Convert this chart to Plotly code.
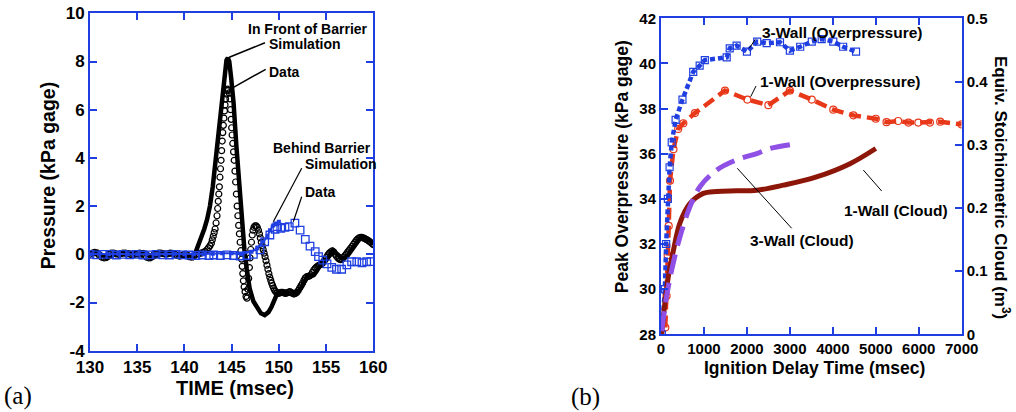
import plotly.graph_objects as go

W, H = 1016, 412
BLUE = "#1f3fe0"
RED = "#e8381a"
DARKRED = "#8c1608"
PURPLE = "#8f50e6"
FONT = "Liberation Sans"

# ---------------- Panel (a) data ----------------
front_sim_t = [130, 130.4, 130.8, 131.3, 131.8, 132.3, 132.8, 133.3, 133.8, 134.3, 134.8, 135.2,
               135.7, 136.1, 136.5, 137.0, 137.5, 138.0, 138.5, 139.0, 139.5, 140.0, 140.5, 140.9,
               141.2, 141.5, 141.8, 142.1, 142.4, 142.7, 143.0, 143.25, 143.5, 143.75, 144.0, 144.25,
               144.45, 144.6, 144.75, 144.95, 145.2, 145.5, 145.8, 146.1, 146.35, 146.6, 146.9,
               147.3, 147.7, 148.1, 148.5, 148.9, 149.2, 149.5, 149.8, 150.1, 150.6, 151.1, 151.5,
               151.9, 152.3, 152.7, 153.0, 153.4, 153.7, 154.0, 154.4, 154.8, 155.1, 155.45, 155.75,
               156.2, 156.8, 157.3, 157.8, 158.2, 158.7, 159.1, 159.6, 160.0]
front_sim_p = [0.0, 0.08, 0.1, -0.05, -0.18, -0.05, 0.03, 0.05, 0.04, 0.06, 0.0, -0.05,
               0.08, 0.02, -0.18, -0.05, 0.03, 0.05, 0.06, 0.04, -0.03, -0.08, -0.02, -0.13,
               0.1, 0.4, 0.75, 1.05, 1.45, 2.0, 2.8, 3.7, 4.7, 5.8, 6.8, 7.6,
               8.05, 8.15, 8.0, 7.3, 6.3, 4.5, 2.9, 1.4, 0.2, -0.6, -1.4,
               -1.95, -2.25, -2.45, -2.52, -2.4, -2.2, -1.9, -1.65, -1.6, -1.6, -1.58, -1.6,
               -1.62, -1.42, -1.15, -0.93, -0.9, -0.86, -0.7, -0.44, -0.3, -0.2, -0.02, 0.16,
               0.0, -0.2, -0.05, 0.25, 0.5, 0.72, 0.7, 0.6, 0.42]

front_data_t = [130.0, 130.25, 130.5, 130.75, 131.0, 131.25, 131.5, 131.75, 132.0, 132.25, 132.5,
                132.75, 133.0, 133.25, 133.5, 133.75, 134.0, 134.25, 134.5, 134.75, 135.0, 135.25,
                135.5, 135.75, 136.0, 136.25, 136.5, 136.75, 137.0, 137.25, 137.5, 137.75, 138.0,
                138.25, 138.5, 138.75, 139.0, 139.25, 139.5, 139.75, 140.0, 140.25, 140.5, 140.75,
                141.0, 141.25, 141.5, 141.75, 142.0, 142.2, 142.4, 142.55, 142.7, 142.85, 142.95,
                143.05, 143.15, 143.25, 143.35, 143.45, 143.52, 143.58, 143.64, 143.7, 143.76,
                143.82, 143.88, 143.94, 144.0, 144.06, 144.12, 144.18, 144.24, 144.3, 144.36,
                144.42, 144.48, 144.56, 144.65, 144.74, 144.82, 144.89, 144.95, 145.0, 145.05,
                145.12, 145.2, 145.27, 145.35, 145.42, 145.5, 145.58, 145.66, 145.74, 145.82,
                145.9, 145.98, 146.06, 146.12, 146.18, 146.24, 146.32, 146.42, 146.52, 146.62,
                146.72, 146.8, 146.88, 146.95, 147.02, 147.1, 147.18, 147.26, 147.36, 147.48,
                147.6, 147.72, 147.84, 147.94, 148.04, 148.14, 148.24, 148.34, 148.44, 148.54,
                148.64, 148.74, 148.84, 148.94, 149.04, 149.14, 149.24, 149.34, 149.44, 149.54,
                149.66, 149.8, 149.95, 150.1, 150.25, 150.4, 150.55, 150.7, 150.85, 151.0, 151.15,
                151.3, 151.45, 151.6, 151.75, 151.9, 152.05, 152.2, 152.35, 152.5, 152.65, 152.8,
                152.95, 153.1, 153.25, 153.4, 153.55, 153.7, 153.85, 154.0, 154.15, 154.3, 154.45,
                154.6, 154.75, 154.9, 155.05, 155.2, 155.35, 155.5, 155.65, 155.8, 155.95, 156.1,
                156.25, 156.4, 156.55, 156.7, 156.85, 157.0, 157.15, 157.3, 157.45, 157.6, 157.75,
                157.9, 158.05, 158.2, 158.35, 158.5, 158.65, 158.8, 158.95, 159.1, 159.25, 159.4,
                159.55, 159.7, 159.85, 160.0]
front_data_p = [0.0, 0.05, 0.08, 0.05, -0.05, -0.12, -0.15, -0.1, 0.0, 0.05, 0.05,
                0.02, 0.0, 0.03, 0.05, 0.05, 0.03, 0.0, -0.03, 0.0, 0.03, 0.05,
                0.02, -0.05, -0.12, -0.15, -0.1, -0.02, 0.02, 0.05, 0.05, 0.03, 0.0,
                0.02, 0.05, 0.04, 0.0, -0.05, -0.08, -0.05, 0.0, -0.03, -0.1, -0.12,
                -0.08, 0.0, 0.03, 0.05, 0.08, 0.12, 0.2, 0.27, 0.35, 0.46, 0.6,
                0.75, 0.9, 1.05, 1.3, 1.6, 1.9, 2.2, 2.5, 2.8, 3.2,
                3.55, 3.9, 4.3, 4.7, 5.05, 5.35, 5.65, 5.95, 6.2, 6.45,
                6.65, 6.8, 6.85, 6.8, 6.7, 6.45, 6.0, 5.6, 5.25, 4.95,
                4.6, 4.25, 3.9, 3.45, 3.0, 2.5, 2.0, 1.6, 1.2, 0.85,
                0.5, 0.15, -0.2, -0.5, -0.8, -1.1, -1.35, -1.55, -1.75, -1.82,
                -1.45, -1.0, -0.55, -0.15, 0.2, 0.5, 0.8, 1.0, 1.12, 1.18,
                1.18, 1.12, 1.0, 0.85, 0.68, 0.5, 0.35, 0.2, 0.05, -0.1,
                -0.27, -0.45, -0.62, -0.8, -0.95, -1.08, -1.2, -1.3, -1.4, -1.48,
                -1.55, -1.6, -1.62, -1.6, -1.58, -1.58, -1.6, -1.62, -1.6, -1.58, -1.55,
                -1.58, -1.62, -1.65, -1.62, -1.58, -1.5, -1.4, -1.3, -1.2, -1.08, -0.98,
                -0.93, -0.92, -0.9, -0.85, -0.75, -0.65, -0.58, -0.52, -0.48, -0.45, -0.42,
                -0.38, -0.3, -0.22, -0.12, -0.02, 0.05, 0.1, 0.14, 0.1, 0.0, -0.08,
                -0.15, -0.2, -0.22, -0.2, -0.12, -0.05, 0.02, 0.1, 0.18, 0.25, 0.33,
                0.42, 0.5, 0.58, 0.64, 0.68, 0.7, 0.7, 0.68, 0.65, 0.62, 0.58,
                0.54, 0.5, 0.45, 0.4]

behind_sim_t = [130, 131, 132, 133, 134, 135, 136, 137, 138, 139, 140, 141, 142, 143, 144, 145,
                146, 147.1, 147.7, 148.35, 148.8, 149.06, 149.4, 149.7, 150.0]
behind_sim_p = [0.0, 0.02, 0.0, 0.02, 0.0, 0.0, 0.02, 0.0, 0.0, 0.02, 0.0, 0.0, 0.0, 0.02, 0.04,
                0.04, 0.0, 0.11, 0.25, 0.52, 0.76, 1.0, 1.19, 1.28, 1.35]

behind_data_t = [130.0, 130.7, 131.4, 132.1, 132.8, 133.5, 134.2, 134.9, 135.6, 136.3, 137.0,
                 137.7, 138.4, 139.1, 139.8, 140.5, 141.2, 141.9, 142.6, 143.1, 143.8, 144.5,
                 145.2, 145.9, 146.6, 147.3, 148.0, 148.5, 149.05, 149.6, 149.8, 150.2, 150.65,
                 151.1, 151.7, 152.25, 152.8, 153.3, 153.85, 154.2, 154.65, 155.1, 155.6, 156.1,
                 156.65, 157.2, 157.7, 158.25, 158.8, 159.3, 159.75]
behind_data_p = [0.0, -0.02, 0.0, 0.0, -0.03, 0.0, -0.02, 0.0, -0.03, -0.02, 0.0,
                 -0.02, -0.03, 0.0, -0.02, -0.03, -0.05, -0.03, -0.05, -0.03, -0.05, -0.02,
                 -0.05, -0.07, -0.05, 0.0, 0.18, 0.52, 0.8, 1.04, 1.15, 1.08, 1.12,
                 1.15, 1.29, 1.0, 0.62, 0.34, 0.11, -0.1, -0.24, -0.4, -0.54, -0.62,
                 -0.62, -0.44, -0.31, -0.31, -0.35, -0.31, -0.3]

a_xticks = [130, 135, 140, 145, 150, 155, 160]
a_yticks = [-4, -2, 0, 2, 4, 6, 8, 10]

# ---------------- Panel (b) data ----------------
wall3_op_t = [20, 90, 120, 160, 200, 250, 340, 500, 750, 900, 1020, 1530, 1600, 1760, 2000,
              2240, 2460, 2770, 3000, 3240, 3510, 3740, 4010, 4240, 4540]
wall3_op_p = [28.0, 30.0, 32.0, 34.0, 35.4, 36.5, 37.5, 38.4, 39.63, 39.9, 40.15, 40.27, 40.67,
              40.79, 40.52, 40.97, 40.9, 40.94, 40.57, 40.74, 40.97, 41.08, 40.97, 40.74, 40.52]

wall1_op_t = [100, 130, 155, 180, 210, 290, 400, 520, 790, 1490, 2010, 2500, 3000, 3510, 4010,
              4480, 5000, 5250, 5520, 5760, 5990, 6260, 6500, 7000]
wall1_op_p = [28.3, 29.7, 31.5, 32.8, 34.8, 36.2, 37.1, 37.35, 37.8, 38.8, 38.4, 38.15, 38.8,
              38.4, 37.95, 37.7, 37.55, 37.4, 37.45, 37.38, 37.38, 37.38, 37.42, 37.3]

wall3_cloud_t = [15, 130, 250, 440, 675, 910, 1300, 1760, 2230, 2540, 3000]
wall3_cloud_c = [0.005, 0.06, 0.102, 0.154, 0.202, 0.234, 0.26, 0.276, 0.286, 0.294, 0.300]

wall1_cloud_t = [15, 55, 170, 290, 440, 675, 985, 1300, 1760, 2230, 2850, 3620, 4400, 5000]
wall1_cloud_c = [0.0, 0.028, 0.091, 0.133, 0.176, 0.207, 0.223, 0.226, 0.227, 0.228, 0.236,
                 0.249, 0.27, 0.294]

b_xticks = [0, 1000, 2000, 3000, 4000, 5000, 6000, 7000]
b_yticks = [28, 30, 32, 34, 36, 38, 40, 42]
b_y2ticks = [0, 0.1, 0.2, 0.3, 0.4, 0.5]


def PX(x):
    return x / W


def PY(y):
    return 1 - y / H


fig = go.Figure()

# panel a traces
fig.add_trace(go.Scatter(x=front_sim_t, y=front_sim_p, mode="lines",
                         line=dict(color="black", width=4.5), xaxis="x", yaxis="y"))
fig.add_trace(go.Scatter(x=front_data_t, y=front_data_p, mode="markers",
                         marker=dict(symbol="circle-open", size=6, color="black",
                                     line=dict(width=1.2, color="black")),
                         xaxis="x", yaxis="y"))
fig.add_trace(go.Scatter(x=behind_data_t, y=behind_data_p, mode="markers",
                         marker=dict(symbol="square-open", size=7.5, color=BLUE,
                                     line=dict(width=1.3, color=BLUE)),
                         xaxis="x", yaxis="y"))
fig.add_trace(go.Scatter(x=behind_sim_t, y=behind_sim_p, mode="lines+markers",
                         line=dict(color=BLUE, width=2),
                         marker=dict(symbol="square", size=4, color=BLUE),
                         xaxis="x", yaxis="y"))

# panel b traces
fig.add_trace(go.Scatter(x=wall1_cloud_t, y=wall1_cloud_c, mode="lines", line_shape="spline",
                         line=dict(color=DARKRED, width=5), xaxis="x2", yaxis="y3"))
fig.add_trace(go.Scatter(x=wall3_cloud_t, y=wall3_cloud_c, mode="lines", line_shape="spline",
                         line=dict(color=PURPLE, width=5, dash="20px,9px"),
                         xaxis="x2", yaxis="y3"))
fig.add_trace(go.Scatter(x=wall1_op_t, y=wall1_op_p, mode="lines+markers",
                         line=dict(color=RED, width=4.5, dash="12px,6px"),
                         marker=dict(symbol="circle-open", size=7, color=RED,
                                     line=dict(width=1.2, color=RED)),
                         xaxis="x2", yaxis="y2"))
fig.add_trace(go.Scatter(x=wall3_op_t, y=wall3_op_p, mode="lines+markers",
                         line=dict(color=BLUE, width=4.5, dash="5px,3px"),
                         marker=dict(symbol="square-open", size=7, color=BLUE,
                                     line=dict(width=1.2, color=BLUE)),
                         xaxis="x2", yaxis="y2"))

axis_common = dict(showgrid=False, zeroline=False, showline=True, linecolor=BLUE, linewidth=2,
                   ticks="inside", ticklen=7, tickwidth=2, tickcolor=BLUE, automargin=False)

fig.update_layout(
    width=W, height=H, margin=dict(l=0, r=0, t=0, b=0, autoexpand=False),
    paper_bgcolor="white", plot_bgcolor="white", showlegend=False,
    font=dict(family=FONT, color="black"),
    xaxis=dict(domain=[PX(90), PX(373.3)], range=[130, 160], anchor="y", mirror="ticks",
               tickvals=a_xticks, ticktext=[str(v) for v in a_xticks],
               tickfont=dict(size=17, weight="bold", family=FONT), **axis_common),
    yaxis=dict(domain=[PY(350.7), PY(13.3)], range=[-4, 10], anchor="x", mirror="ticks",
               tickvals=a_yticks, ticktext=[str(v) for v in a_yticks],
               tickfont=dict(size=17, weight="bold", family=FONT), **axis_common),
    xaxis2=dict(domain=[PX(661), PX(961.7)], range=[0, 7000], anchor="y2", mirror="ticks",
                tickvals=b_xticks, ticktext=[str(v) for v in b_xticks],
                tickfont=dict(size=15, weight="bold", family=FONT), **axis_common),
    yaxis2=dict(domain=[PY(334.3), PY(18.3)], range=[28, 42], anchor="x2",
                tickvals=b_yticks, ticktext=[str(v) for v in b_yticks],
                tickfont=dict(size=15, weight="bold", family=FONT), **axis_common),
    yaxis3=dict(domain=[PY(334.3), PY(18.3)], range=[0, 0.5], anchor="x2", overlaying="y2",
                side="right", tickvals=b_y2ticks, ticktext=["0", "0.1", "0.2", "0.3", "0.4", "0.5"],
                tickfont=dict(size=15, weight="bold", family=FONT), **axis_common),
)


def label(text, x, y, size, xanchor="center", angle=0, family=FONT):
    fig.add_annotation(text=text, x=PX(x), y=PY(y), xref="paper", yref="paper",
                       xanchor=xanchor, yanchor="middle", showarrow=False, textangle=angle,
                       font=dict(size=size, family=family, color="black"))


def pointer(x0, y0, x1, y1, width=1.2):
    fig.add_shape(type="line", xref="paper", yref="paper", x0=PX(x0), y0=PY(y0),
                  x1=PX(x1), y1=PY(y1), line=dict(color="black", width=width))


# axis titles
label("<b>TIME (msec)</b>", 234.5, 388.3, 20)
label("<b>Pressure (kPa gage)</b>", 48.3, 175, 19.5, angle=-90)
label("<b>Ignition Delay Time (msec)</b>", 814, 368.3, 17.5)
label("<b>Peak Overpressure (kPa gage)</b>", 621.7, 166.5, 17.5, angle=-90)
label("<b>Equiv. Stoichiometric Cloud (m<sup>3</sup>)</b>", 1002, 187, 17, angle=90)

# panel labels
label("(a)", 17.5, 396, 25, family="Liberation Serif")
label("(b)", 585, 397, 25, family="Liberation Serif")

# panel a annotations
label("<b>In Front of Barrier</b>", 245.7, 29.3, 14, xanchor="left")
label("<b>Simulation</b>", 266.7, 44.3, 14, xanchor="left")
label("<b>Data</b>", 266.7, 71.7, 14, xanchor="left")
label("<b>Behind Barrier</b>", 270.7, 148.3, 14, xanchor="left")
label("<b>Simulation</b>", 303.3, 164.3, 14, xanchor="left")
label("<b>Data</b>", 303.3, 191.7, 14, xanchor="left")
pointer(229.3, 57.3, 265, 42.7, 1.5)
pointer(231.7, 88.3, 265.7, 69.3, 1.5)
pointer(301.7, 168.3, 273.3, 221.7, 1.2)
pointer(301.7, 196.7, 293.3, 221.7, 1.2)

# panel b annotations
label("<b>3-Wall (Overpressure)</b>", 760, 32.3, 15.5, xanchor="left")
label("<b>1-Wall (Overpressure)</b>", 758, 81.7, 15.5, xanchor="left")
label("<b>3-Wall (Cloud)</b>", 748, 241, 15.5, xanchor="left")
label("<b>1-Wall (Cloud)</b>", 841.7, 210.7, 15.5, xanchor="left")
pointer(755.3, 39.3, 749.3, 48.3, 1)
pointer(756, 86, 750.7, 96.7, 1)
pointer(737.3, 168.3, 791.7, 228.3, 1)
pointer(863.3, 170, 881.7, 191, 1)

fig.write_html("out.html", config={"displayModeBar": False},
               post_script="document.body.style.margin='0px';")
